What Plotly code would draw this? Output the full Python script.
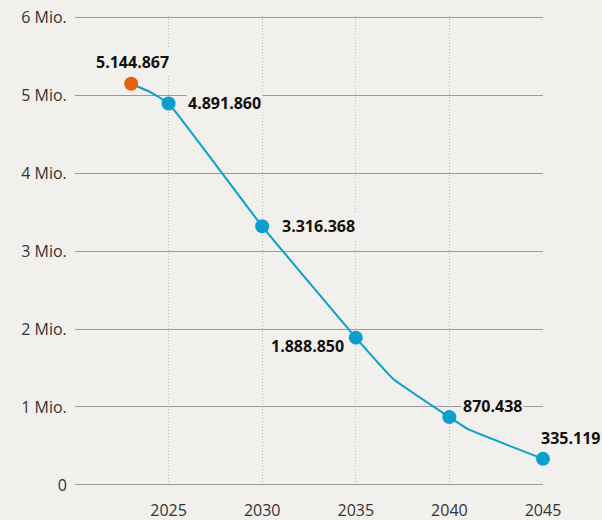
import plotly.graph_objects as go

# line path (years with visible kinks)
line_years = [2023, 2024, 2025, 2030, 2035, 2037, 2040, 2041, 2045]
line_values = [5144867, 5040000, 4891860, 3316368, 1888850, 1360000, 870438, 715000, 335119]

# labelled points
point_years = [2023, 2025, 2030, 2035, 2040, 2045]
point_values = [5144867, 4891860, 3316368, 1888850, 870438, 335119]

y_tickvals = [0, 1e6, 2e6, 3e6, 4e6, 5e6, 6e6]
y_ticktext = ["0", "1 Mio.", "2 Mio.", "3 Mio.", "4 Mio.", "5 Mio.", "6 Mio."]
x_tickvals = [2025, 2030, 2035, 2040, 2045]

BG = "#f1f0ec"
BLUE = "#0a9fcf"
ORANGE = "#e8600f"
FONT = "Open Sans"

def de_fmt(v):
    return f"{v:,}".replace(",", ".")

fig = go.Figure()
fig.add_trace(go.Scatter(x=line_years, y=line_values, mode="lines",
                         line=dict(color=BLUE, width=2, shape="spline", smoothing=0.3),
                         hoverinfo="skip", showlegend=False, cliponaxis=False))
colors = [ORANGE] + [BLUE] * (len(point_years) - 1)
fig.add_trace(go.Scatter(x=point_years, y=point_values, mode="markers",
                         marker=dict(color=colors, size=14, line=dict(width=0)),
                         showlegend=False, cliponaxis=False))

# label placement: (xanchor, xshift, yshift)
placements = [("center", 1, 22), ("left", 17, 0), ("left", 18, 0),
              ("right", -10, -8), ("left", 12, 11), ("left", -4, 21)]
for xv, yv, (xa, xs, ys) in zip(point_years, point_values, placements):
    fig.add_annotation(x=xv, y=yv, xref="x", yref="y", text=de_fmt(yv),
                       showarrow=False, xanchor=xa, yanchor="middle",
                       xshift=xs, yshift=ys, bgcolor=BG, borderpad=1,
                       font=dict(family=FONT, size=16, color="#111111", weight="bold"))

fig.update_layout(
    width=602, height=520,
    paper_bgcolor=BG, plot_bgcolor=BG,
    margin=dict(l=75, r=59, t=16, b=34),
    font=dict(family=FONT, size=16, color="#333333"),
    xaxis=dict(range=[2020, 2045], tickvals=x_tickvals, showgrid=True,
               gridcolor="#bdbdbd", griddash="1px,2px", gridwidth=1, automargin=False,
               zeroline=False, showline=False, ticks="outside", ticklen=10,
               tickcolor="rgba(0,0,0,0)", tickfont=dict(size=16, color="#333333")),
    yaxis=dict(range=[-0.013e6, 6.013e6], tickvals=y_tickvals, ticktext=y_ticktext,
               showgrid=True, gridcolor="#9a9a9a", gridwidth=1, zeroline=False,
               automargin=False, showline=False, ticks="outside", ticklen=4,
               tickcolor="rgba(0,0,0,0)", tickfont=dict(size=16, color="#333333")),
    hovermode=False,
)
fig.write_html("out.html", config={"displayModeBar": False},
               post_script="document.body.style.margin='0';document.body.style.overflow='hidden';")
